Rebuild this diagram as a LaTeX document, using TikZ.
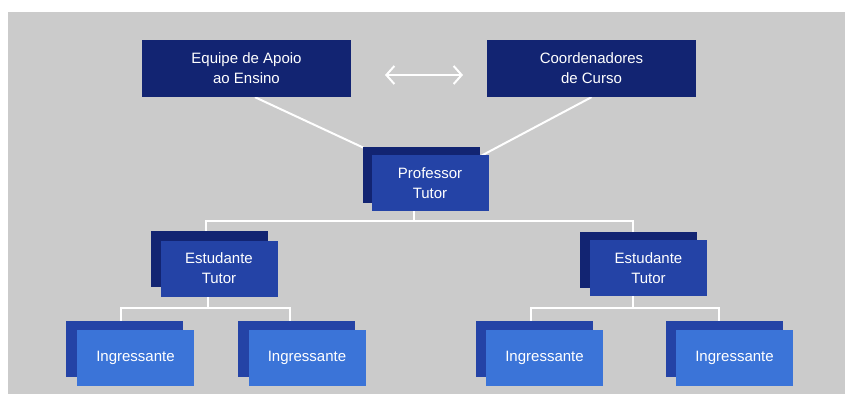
\documentclass[tikz,border=0pt]{standalone}
\usepackage{fontspec}
\setmainfont{Liberation Sans}
\usetikzlibrary{arrows.meta}
\definecolor{navy}{HTML}{122472}
\definecolor{midblue}{HTML}{2443A6}
\definecolor{lightblue}{HTML}{3B74D8}
\definecolor{bggray}{HTML}{CBCBCB}
\pgfdeclarelayer{bg}
\pgfdeclarelayer{lines}
\pgfsetlayers{bg,lines,main}
\tikzset{
  box/.style={rectangle, inner sep=0pt, text=white, align=center,
    font=\fontsize{15}{20}\selectfont},
  topbox/.style={box, fill=navy, minimum width=209pt, minimum height=57pt},
  backbox/.style={box, fill=navy, minimum width=117pt, minimum height=56pt},
  frontbox/.style={box, fill=midblue, minimum width=117pt, minimum height=56pt},
  ingback/.style={box, fill=midblue, minimum width=117pt, minimum height=56pt},
  ingfront/.style={box, fill=lightblue, minimum width=117pt, minimum height=56pt},
  link/.style={draw=white, line width=2pt},
  chev/.tip={Straight Barb[length=8pt,width=18pt]},
}
\begin{document}
\begin{tikzpicture}[x=1pt,y=-1pt]
\useasboundingbox (0,0) rectangle (845,394);
\begin{pgfonlayer}{bg}
  \fill[white] (0,0) rectangle (845,394);
  \fill[bggray] (8,12) rectangle (845,394);
\end{pgfonlayer}

% top boxes
\node[topbox] (equipe) at (246.5,68.5) {Equipe de Apoio\\ao Ensino};
\node[topbox] (coord) at (591.5,68.5) {Coordenadores\\de Curso};

% professor tutor
\node[backbox] (profB) at (421,174.5) {};
\node[frontbox] (profF) at (430,183) {Professor\\Tutor};

% estudantes tutores
\node[backbox] (estLB) at (209,259) {};
\node[frontbox] (estLF) at (219,268.5) {Estudante\\Tutor};
\node[backbox] (estRB) at (638.5,259.5) {};
\node[frontbox] (estRF) at (648.5,268) {Estudante\\Tutor};

% ingressantes
\node[ingback] (i1B) at (124.5,349) {};
\node[ingfront] (i1F) at (135.5,357.5) {Ingressante};
\node[ingback] (i2B) at (296.5,349) {};
\node[ingfront] (i2F) at (307,357.5) {Ingressante};
\node[ingback] (i3B) at (534.5,349) {};
\node[ingfront] (i3F) at (544.5,357.5) {Ingressante};
\node[ingback] (i4B) at (724.5,349) {};
\node[ingfront] (i4F) at (734.5,357.5) {Ingressante};

% double arrow between top boxes
\coordinate (arrL) at (385,75);
\coordinate (arrR) at (463,75);
\draw[link, chev-chev] (arrL) -- (arrR);

\begin{pgfonlayer}{lines}
  \draw[link] ([xshift=8.5pt]equipe.south) -- (profB.center);
  \draw[link] (coord.south) -- (profF.center);
  % professor to estudantes
  \draw[link] ([xshift=-7pt]profB.center) |- ([xshift=-3pt,yshift=10pt]estLB.north) -- ([xshift=-3pt]estLB.center);
  \draw[link] ([xshift=-7pt]profB.center) |- ([xshift=-5.5pt,yshift=10pt]estRB.north) -- ([xshift=-5.5pt]estRB.center);
  % estudante L to ingressantes
  \draw[link] ([xshift=-1pt]estLB.center) |- ([xshift=-3.5pt,yshift=13pt]i1B.north) -- ([xshift=-3.5pt]i1B.center);
  \draw[link] ([xshift=-1pt]estLB.center) |- ([xshift=-6.5pt,yshift=13pt]i2B.north) -- ([xshift=-6.5pt]i2B.center);
  % estudante R to ingressantes
  \draw[link] ([xshift=-5.5pt]estRB.center) |- ([xshift=-3.5pt,yshift=13pt]i3B.north) -- ([xshift=-3.5pt]i3B.center);
  \draw[link] ([xshift=-5.5pt]estRB.center) |- ([xshift=-5.5pt,yshift=13pt]i4B.north) -- ([xshift=-5.5pt]i4B.center);
\end{pgfonlayer}
\end{tikzpicture}
\end{document}
